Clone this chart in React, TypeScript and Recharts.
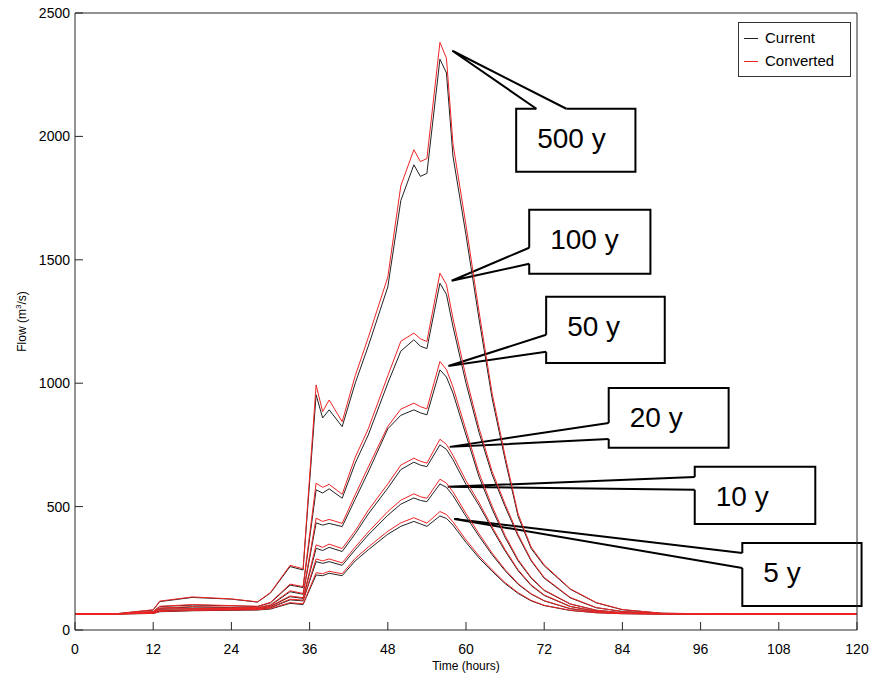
import React from 'react';
import { Legend, Line, LineChart, ReferenceArea, XAxis, YAxis } from 'recharts';

const hours = [0, 6, 12, 13, 18, 24, 28, 30, 33, 35, 37, 38, 39, 41, 43, 45, 48, 50, 52, 53, 54, 56, 57, 58, 60, 62, 64, 66, 68, 70, 72, 76, 80, 84, 90, 96, 120];

// current (black) hydrographs
const cur5 = [65, 65, 67, 74, 78, 80, 81, 85, 108, 103, 223, 220, 230, 220, 280, 325, 388, 420, 440, 430, 420, 462, 452, 425, 355, 292, 238, 188, 148, 118, 99, 79, 70, 66, 65, 65, 65];
const cur10 = [65, 65, 68, 78, 81, 82, 84, 90, 122, 118, 277, 270, 277, 262, 325, 385, 465, 510, 535, 525, 520, 592, 578, 545, 460, 380, 305, 240, 185, 145, 118, 86, 73, 67, 65, 65, 65];
const cur20 = [65, 65, 70, 84, 86, 86, 86, 95, 135, 128, 331, 322, 335, 318, 390, 470, 575, 650, 680, 668, 662, 750, 732, 690, 590, 505, 410, 320, 240, 180, 140, 95, 76, 68, 66, 65, 65];
const cur50 = [65, 65, 72, 88, 93, 91, 90, 100, 155, 145, 434, 425, 432, 419, 530, 640, 815, 870, 892, 880, 872, 1054, 1025, 960, 790, 620, 490, 375, 280, 210, 160, 105, 80, 70, 66, 65, 65];
const cur100 = [65, 65, 74, 95, 101, 98, 95, 110, 182, 172, 568, 555, 572, 534, 676, 790, 1000, 1130, 1176, 1150, 1140, 1405, 1360, 1230, 1000, 800, 630, 500, 380, 280, 210, 130, 90, 75, 67, 65, 65];
const cur500 = [65, 65, 81, 115, 132, 125, 113, 150, 257, 243, 953, 859, 892, 824, 1000, 1150, 1390, 1740, 1885, 1838, 1850, 2313, 2257, 1920, 1600, 1260, 940, 690, 460, 330, 260, 165, 110, 82, 68, 66, 65];

// converted (red) hydrographs
const conv5 = [65, 65, 67, 75, 79, 81, 82, 87, 111, 106, 232, 228, 238, 228, 290, 336, 400, 434, 455, 444, 433, 480, 468, 438, 365, 300, 244, 192, 151, 120, 100, 80, 70, 66, 65, 65, 65];
const conv10 = [65, 65, 68, 79, 82, 83, 85, 92, 125, 121, 288, 280, 288, 272, 336, 397, 480, 526, 552, 540, 534, 611, 595, 560, 472, 390, 312, 245, 188, 147, 119, 87, 73, 67, 65, 65, 65];
const conv20 = [65, 65, 70, 85, 87, 87, 87, 97, 138, 131, 345, 335, 348, 330, 402, 485, 592, 668, 696, 684, 676, 773, 752, 708, 605, 516, 418, 326, 244, 183, 142, 96, 76, 68, 66, 65, 65];
const conv50 = [65, 65, 73, 89, 95, 92, 91, 102, 159, 148, 453, 440, 448, 432, 548, 660, 825, 895, 919, 905, 896, 1088, 1055, 985, 810, 636, 502, 383, 285, 213, 162, 106, 80, 70, 66, 65, 65];
const conv100 = [65, 65, 75, 96, 103, 99, 96, 112, 186, 176, 595, 578, 590, 550, 700, 815, 1030, 1170, 1203, 1180, 1169, 1446, 1400, 1262, 1025, 818, 643, 510, 387, 284, 213, 132, 91, 75, 67, 65, 65];
const conv500 = [65, 65, 82, 117, 134, 126, 114, 152, 262, 248, 993, 885, 932, 844, 1030, 1185, 1430, 1800, 1946, 1898, 1910, 2381, 2317, 1970, 1640, 1290, 960, 705, 470, 336, 264, 167, 111, 83, 68, 66, 65];

const xTicks = [0, 12, 24, 36, 48, 60, 72, 84, 96, 108, 120];
const yTicks = [0, 500, 1000, 1500, 2000, 2500];

const series = [
  { key: '5', cur: cur5, conv: conv5 },
  { key: '10', cur: cur10, conv: conv10 },
  { key: '20', cur: cur20, conv: conv20 },
  { key: '50', cur: cur50, conv: conv50 },
  { key: '100', cur: cur100, conv: conv100 },
  { key: '500', cur: cur500, conv: conv500 },
];

// callout boxes, in data units (hours / m3/s)
const callouts = [
  { label: '500 y', x1: 67.7, x2: 86.0, top: 2112, bottom: 1857, tipX: 57.9, tipY: 2347, side: 'top', g1: 70.8, g2: 75.4 },
  { label: '100 y', x1: 69.7, x2: 88.3, top: 1703, bottom: 1443, tipX: 57.8, tipY: 1415, side: 'left', g1: 1549, g2: 1484 },
  { label: '50 y', x1: 72.3, x2: 90.5, top: 1350, bottom: 1082, tipX: 57.3, tipY: 1070, side: 'left', g1: 1196, g2: 1127 },
  { label: '20 y', x1: 81.9, x2: 100.3, top: 981, bottom: 738, tipX: 57.5, tipY: 742, side: 'left', g1: 839, g2: 774 },
  { label: '10 y', x1: 95.1, x2: 113.6, top: 661, bottom: 430, tipX: 57.2, tipY: 580, side: 'left', g1: 620, g2: 568 },
  { label: '5 y', x1: 102.4, x2: 120.7, top: 353, bottom: 97, tipX: 58.2, tipY: 450, side: 'left', g1: 312, g2: 251 },
];

const rows = hours.map((h, i) => {
  const r: any = { hour: h };
  series.forEach((s) => {
    r['cur' + s.key] = s.cur[i];
    r['conv' + s.key] = s.conv[i];
  });
  return r;
});

const axisColor = '#262626';
const tickFont = { fill: '#000', fontSize: 14 };
const red = '#f02424';

function Callout(props: any) {
  const { x, y, width, height, c } = props;
  const kx = width / (c.x2 - c.x1);
  const ky = height / (c.top - c.bottom);
  const px = (h: number) => x + (h - c.x1) * kx;
  const py = (f: number) => y + (c.top - f) * ky;
  const L = x, R = x + width, T = y, B = y + height;
  const tx = px(c.tipX), ty = py(c.tipY);
  let outline = '';
  let a: number[];
  let b: number[];
  if (c.side === 'top') {
    a = [px(c.g1), T];
    b = [px(c.g2), T];
    outline = `M${a[0]},${T} L${L},${T} L${L},${B} L${R},${B} L${R},${T} L${b[0]},${T}`;
  } else {
    a = [L, py(c.g1)];
    b = [L, py(c.g2)];
    outline = `M${L},${a[1]} L${L},${T} L${R},${T} L${R},${B} L${L},${B} L${L},${b[1]}`;
  }
  return (
    <g>
      <rect x={L} y={T} width={width} height={height} fill="#fff" />
      <path d={outline} fill="none" stroke="#000" strokeWidth={2} />
      <path d={`M${a[0]},${a[1]} L${tx},${ty} L${b[0]},${b[1]}`} fill="none" stroke="#000" strokeWidth={2} />
      <text x={L + 21} y={T + 39} fontSize={28} fill="#000">{c.label}</text>
    </g>
  );
}

function LegendBox() {
  return (
    <svg width={113} height={55}>
      <rect x={0.5} y={0.5} width={112} height={54} fill="#fff" stroke="#333" />
      <line x1={6} x2={20} y1={16.5} y2={16.5} stroke="#222" />
      <text x={27} y={21} fontSize={15} fill="#000">Current</text>
      <line x1={6} x2={20} y1={39.5} y2={39.5} stroke={red} />
      <text x={27} y={44} fontSize={15} fill="#000">Converted</text>
    </svg>
  );
}

function FlowTitle() {
  return (
    <text x={26} y={321.5} transform="rotate(-90, 26, 321.5)" textAnchor="middle" fontSize={12} fill="#000">
      Flow (m<tspan dy={-5} fontSize={8}>3</tspan><tspan dy={5}>/s)</tspan>
    </text>
  );
}

function TimeTitle() {
  return (
    <text x={466} y={670} textAnchor="middle" fontSize={12} fill="#000">Time (hours)</text>
  );
}

export default function App() {
  return (
    <div style={{ position: 'absolute', left: 0, top: 0, background: '#fff', fontFamily: '"Liberation Sans", Arial, sans-serif' }}>
      <LineChart width={870} height={682} data={rows} margin={{ top: 12, right: 12, bottom: 0, left: 0 }}>
        <XAxis xAxisId={0} dataKey="hour" type="number" domain={[0, 120]} ticks={xTicks} interval={0}
          height={52} stroke={axisColor} tickSize={-8} tickMargin={22} tick={tickFont} label={<TimeTitle />} />
        <XAxis xAxisId="top" orientation="top" dataKey="hour" type="number" domain={[0, 120]} ticks={xTicks}
          interval={0} height={1} stroke={axisColor} tickSize={-8} tick={false} />
        <YAxis yAxisId={0} type="number" domain={[0, 2500]} ticks={yTicks} interval={0} width={75}
          stroke={axisColor} tickSize={-8} tickMargin={13} tick={tickFont} label={<FlowTitle />} />
        <YAxis yAxisId="right" orientation="right" type="number" domain={[0, 2500]} ticks={yTicks} interval={0}
          width={1} stroke={axisColor} tickSize={-8} tick={false} />
        {series.map((s) => (
          <Line key={'cur' + s.key} dataKey={'cur' + s.key} type="linear" stroke="#222" strokeWidth={1}
            dot={false} activeDot={false} isAnimationActive={false} />
        ))}
        {series.map((s) => (
          <Line key={'conv' + s.key} dataKey={'conv' + s.key} type="linear" stroke={red} strokeWidth={1}
            dot={false} activeDot={false} isAnimationActive={false} />
        ))}
        {callouts.map((c) => (
          <ReferenceArea key={c.label} x1={c.x1} x2={c.x2} y1={c.bottom} y2={c.top} ifOverflow="visible"
            shape={(p: any) => <Callout {...p} c={c} />} />
        ))}
        <Legend layout="vertical" align="center" verticalAlign="middle" content={<LegendBox />}
          wrapperStyle={{ left: 738, top: 22, width: 113, height: 55 }} />
      </LineChart>
    </div>
  );
}
